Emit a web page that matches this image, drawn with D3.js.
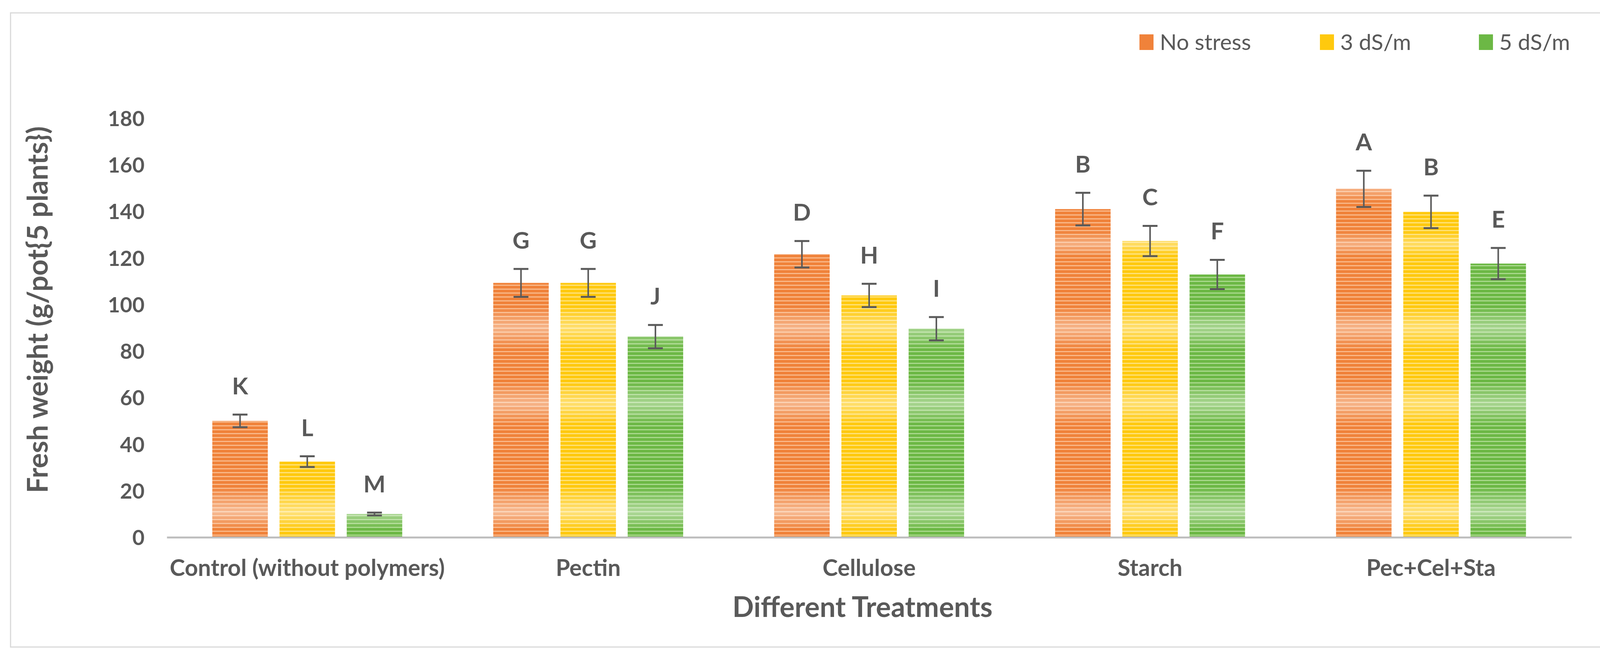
<!DOCTYPE html>
<html>
<head>
<meta charset="utf-8">
<script src="https://cdn.jsdelivr.net/npm/d3@7"></script>
<style>
  body { margin: 0; background: #fff; }
  text { font-family: Lato, "Open Sans", sans-serif; fill: #595959; }
</style>
</head>
<body>
<div id="chart"></div>
<script>
// data
const categories = ["Control (without polymers)", "Pectin", "Cellulose", "Starch", "Pec+Cel+Sta"];
const series = ["No stress", "3 dS/m", "5 dS/m"];
const noStress = [50, 109.3, 121.6, 141, 149.7];
const ds3 = [32.5, 109.3, 103.9, 127.3, 139.8];
const ds5 = [10, 86.2, 89.6, 112.9, 117.6];
const errNoStress = [2.7, 6, 5.7, 7, 7.8];
const err3 = [2.3, 6, 5, 6.5, 7];
const err5 = [0.6, 5, 5, 6.3, 6.7];
const lettersNoStress = ["K", "G", "D", "B", "A"];
const letters3 = ["L", "G", "H", "C", "B"];
const letters5 = ["M", "J", "I", "F", "E"];
const yTicks = [0, 20, 40, 60, 80, 100, 120, 140, 160, 180];

const colors = ["#f0823a", "#ffc90e", "#6cb845"];
const lightColors = ["#f9b98a", "#ffe27a", "#aad98d"];

const W = 4275, H = 1680;
const margin = { top: 303, right: 252, bottom: 304, left: 427 };
const width = W - margin.left - margin.right;
const height = H - margin.top - margin.bottom;

const values = [noStress, ds3, ds5];
const errors = [errNoStress, err3, err5];
const letters = [lettersNoStress, letters3, letters5];

const data = [];
categories.forEach((c, i) => {
  series.forEach((s, j) => {
    data.push({ cat: c, ser: s, si: j, v: values[j][i], e: errors[j][i], l: letters[j][i] });
  });
});

const svg = d3.select("#chart").append("svg")
  .attr("width", W).attr("height", H);

svg.append("rect").attr("width", W).attr("height", H).attr("fill", "#fff");

// chart frame
svg.append("rect")
  .attr("x", 27).attr("y", 33)
  .attr("width", 4218).attr("height", 1624)
  .attr("fill", "none").attr("stroke", "#d9d9d9").attr("stroke-width", 3);

const defs = svg.append("defs");
colors.forEach((c, i) => {
  const p = defs.append("pattern")
    .attr("id", "stripe" + i)
    .attr("patternUnits", "userSpaceOnUse")
    .attr("width", 10).attr("height", 10);
  p.append("rect").attr("width", 10).attr("height", 10).attr("fill", c);
  p.append("rect").attr("y", 6).attr("width", 10).attr("height", 3).attr("fill", lightColors[i]);
});

// soft light bands across the bars
const bands = defs.append("linearGradient")
  .attr("id", "bands")
  .attr("gradientUnits", "userSpaceOnUse")
  .attr("x1", 0).attr("y1", margin.top).attr("x2", 0).attr("y2", margin.top + height);
const bandStops = [
  [0, 0], [0.14, 0], [0.17, 0.35], [0.2, 0],
  [0.27, 0], [0.3, 0.35], [0.33, 0],
  [0.45, 0], [0.5, 0.4], [0.55, 0],
  [0.63, 0], [0.68, 0.4], [0.73, 0],
  [0.88, 0], [0.94, 0.45], [0.98, 0], [1, 0]
];
bands.selectAll("stop").data(bandStops).enter().append("stop")
  .attr("offset", d => d[0])
  .attr("stop-color", "#fff")
  .attr("stop-opacity", d => d[1]);

const g = svg.append("g").attr("transform", `translate(${margin.left},${margin.top})`);

const x0 = d3.scaleBand().domain(categories).range([0, width]).paddingInner(0).paddingOuter(0);
const x1 = d3.scaleBand().domain(series).range([0, x0.bandwidth()])
  .paddingInner(0.1744).paddingOuter(0.677);
const y = d3.scaleLinear().domain([0, 180]).range([height, 0]);

// y axis
const yAxis = g.append("g")
  .call(d3.axisLeft(y).tickValues(yTicks).tickSize(0).tickPadding(57));
yAxis.select(".domain").remove();
yAxis.selectAll("text")
  .style("font-family", "Lato, sans-serif")
  .style("font-weight", 700)
  .style("font-size", "54px")
  .attr("fill", "#595959")
  .attr("dy", "0.36em");

// bars
const bars = g.append("g").selectAll("g.bar").data(data).enter().append("g");
bars.append("rect")
  .attr("x", d => x0(d.cat) + x1(d.ser))
  .attr("y", d => y(d.v))
  .attr("width", x1.bandwidth())
  .attr("height", d => height - y(d.v))
  .attr("fill", d => `url(#stripe${d.si})`);
bars.append("rect")
  .attr("x", d => x0(d.cat) + x1(d.ser))
  .attr("width", x1.bandwidth())
  .attr("height", d => height - y(d.v))
  .attr("transform", `translate(0,${-margin.top})`)
  .attr("y", d => y(d.v) + margin.top)
  .attr("fill", "url(#bands)");

// x axis
const xAxis = g.append("g")
  .attr("transform", `translate(0,${height})`)
  .call(d3.axisBottom(x0).tickSize(0).tickSizeOuter(0));
xAxis.select(".domain").attr("stroke", "#bfbfbf").attr("stroke-width", 5);
xAxis.selectAll("text")
  .attr("y", 99).attr("dy", 0)
  .style("font-family", "Lato, sans-serif")
  .style("font-weight", 700)
  .style("font-size", "59px")
  .attr("fill", "#595959");

// error bars
const cap = 19;
const eb = g.append("g").attr("stroke", "#5a5a5a").attr("stroke-width", 4);
data.forEach(d => {
  const cx = x0(d.cat) + x1(d.ser) + x1.bandwidth() / 2;
  eb.append("line").attr("x1", cx).attr("x2", cx).attr("y1", y(d.v + d.e)).attr("y2", y(d.v - d.e));
  eb.append("line").attr("x1", cx - cap).attr("x2", cx + cap).attr("y1", y(d.v + d.e)).attr("y2", y(d.v + d.e)).attr("stroke-width", 5);
  eb.append("line").attr("x1", cx - cap).attr("x2", cx + cap).attr("y1", y(d.v - d.e)).attr("y2", y(d.v - d.e)).attr("stroke-width", 5);
});

// significance letters
g.append("g").selectAll("text").data(data).enter().append("text")
  .attr("x", d => x0(d.cat) + x1(d.ser) + x1.bandwidth() / 2)
  .attr("y", d => y(d.v + d.e) - 52)
  .attr("text-anchor", "middle")
  .style("font-weight", 700)
  .style("font-size", "60px")
  .attr("fill", "#404040")
  .text(d => d.l);

// axis titles
svg.append("text")
  .attr("x", 2208).attr("y", 1580)
  .attr("text-anchor", "middle")
  .style("font-weight", 700)
  .style("font-size", "72px")
  .text("Different Treatments");

svg.append("text")
  .attr("transform", "translate(122,793) rotate(-90)")
  .attr("text-anchor", "middle")
  .style("font-weight", 700)
  .style("font-size", "72px")
  .text("Fresh weight (g/pot{5 plants})");

// legend
const legendX = [2917, 3379, 3786];
const legend = svg.append("g").selectAll("g").data(series).enter().append("g")
  .attr("transform", (d, i) => `translate(${legendX[i]},88)`);
legend.append("rect").attr("width", 36).attr("height", 40).attr("fill", (d, i) => colors[i]);
legend.append("text")
  .attr("x", 52).attr("y", 40)
  .style("font-size", "57px")
  .text(d => d);
</script>
</body>
</html>
